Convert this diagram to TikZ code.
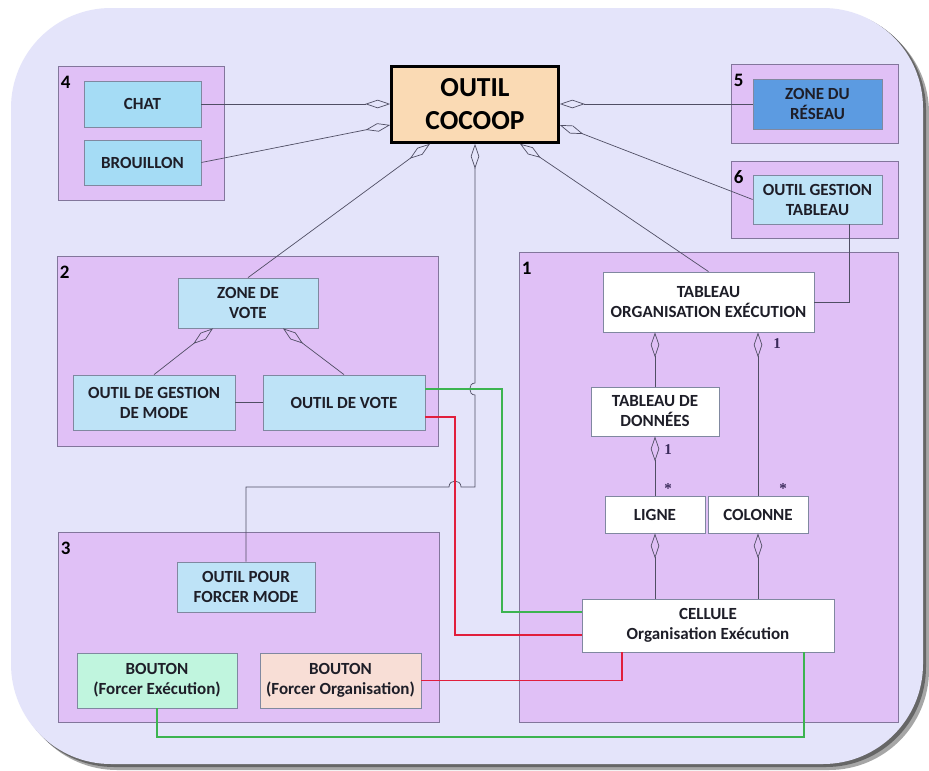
\documentclass[tikz,border=0pt]{standalone}
\usepackage{fontspec}
\setmainfont{Carlito}
\newfontfamily\serifb{Liberation Serif}
\usetikzlibrary{arrows.meta,calc}

\definecolor{bgc}{RGB}{228,228,250}
\definecolor{grp}{RGB}{224,192,246}
\definecolor{grpb}{RGB}{130,118,155}
\definecolor{boxb}{RGB}{128,136,160}
\definecolor{lblue}{RGB}{190,227,247}
\definecolor{cblue}{RGB}{165,220,245}
\definecolor{dblue}{RGB}{92,155,225}
\definecolor{peach}{RGB}{250,218,180}
\definecolor{mint}{RGB}{192,245,222}
\definecolor{pinkc}{RGB}{248,222,214}
\definecolor{lnc}{RGB}{80,78,100}
\definecolor{gline}{RGB}{60,180,80}
\definecolor{rline}{RGB}{225,30,60}
\definecolor{txt}{RGB}{30,30,40}
\definecolor{multc}{RGB}{58,42,90}

\begin{document}
\begin{tikzpicture}[x=1pt,y=-1pt,
  grpbox/.style={draw=grpb, fill=grp, line width=0.8pt, inner sep=0pt},
  glabel/.style={font=\fontsize{19}{19}\selectfont\bfseries, text=black, inner sep=0pt},
  ebox/.style={draw=boxb, line width=0.8pt, inner sep=0pt, align=center,
    font=\fontsize{17}{20}\selectfont\bfseries, text=txt},
  conn/.style={draw=lnc, line width=0.7pt},
  agg/.style={conn, {Diamond[open,length=25pt,width=8.5pt,line width=0.7pt]}-},
  gcon/.style={draw=gline, line width=1.6pt},
  rcon/.style={draw=rline, line width=1.6pt},
  mult/.style={font=\serifb\fontsize{15}{15}\selectfont\bfseries, text=multc, inner sep=0pt}
]
\useasboundingbox (0,0) rectangle (929,771);
\fill[white] (0,0) rectangle (929,771);
% background with shadow
\fill[black!35, rounded corners=100pt] (17,13) rectangle (929,770);
\fill[black!60, rounded corners=100pt] (14,10) rectangle (926,767);
\fill[bgc, rounded corners=100pt] (11,8) rectangle (923,764);

% groups
\node[grpbox, minimum width=166pt, minimum height=134pt] (g4) at (141,133) {};
\node[grpbox, minimum width=167pt, minimum height=79pt] (g5) at (814.5,103.5) {};
\node[grpbox, minimum width=167pt, minimum height=77pt] (g6) at (814.5,199.5) {};
\node[grpbox, minimum width=379pt, minimum height=470pt] (g1) at (708.5,487) {};
\node[grpbox, minimum width=381pt, minimum height=190pt] (g2) at (247.5,351) {};
\node[grpbox, minimum width=381pt, minimum height=190pt] (g3) at (248.5,627) {};

\node[glabel, anchor=base west] (l4) at ($(g4.north west)+(3,23)$) {4};
\node[glabel, anchor=base west] (l5) at ($(g5.north west)+(3,23)$) {5};
\node[glabel, anchor=base west] (l6) at ($(g6.north west)+(3,23)$) {6};
\node[glabel, anchor=base west] (l1) at ($(g1.north west)+(3,23)$) {1};
\node[glabel, anchor=base west] (l2) at ($(g2.north west)+(3,23)$) {2};
\node[glabel, anchor=base west] (l3) at ($(g3.north west)+(3,23)$) {3};

% elements
\node[ebox, fill=cblue, minimum width=117pt, minimum height=46pt] (chat) at (142.5,104) {CHAT};
\node[ebox, fill=cblue, minimum width=117pt, minimum height=45pt] (brouillon) at (142.5,162.5) {BROUILLON};
\node[ebox, fill=peach, draw=black, line width=2.6pt, text=black,
  font=\fontsize{27.5}{33}\selectfont\bfseries,
  minimum width=167pt, minimum height=76pt] (cocoop) at (475,104.5) {OUTIL\\COCOOP};
\node[ebox, fill=dblue, minimum width=129pt, minimum height=50pt] (reseau) at (817.5,104) {ZONE DU\\RÉSEAU};
\node[ebox, fill=lblue, minimum width=129pt, minimum height=49pt] (ogt) at (817.5,199.5) {OUTIL GESTION\\TABLEAU};
\node[ebox, fill=white, minimum width=211pt, minimum height=60pt] (toe) at (708.5,302) {TABLEAU\\ORGANISATION EXÉCUTION};
\node[ebox, fill=white, minimum width=128pt, minimum height=49pt] (tdd) at (655,411.5) {TABLEAU DE\\DONNÉES};
\node[ebox, fill=white, minimum width=100pt, minimum height=37pt] (ligne) at (655,514.5) {LIGNE};
\node[ebox, fill=white, minimum width=100pt, minimum height=37pt] (colonne) at (758,514.5) {COLONNE};
\node[ebox, fill=white, minimum width=252pt, minimum height=53pt] (cellule) at (708,625.5) {CELLULE\\Organisation Exécution};
\node[ebox, fill=lblue, minimum width=140pt, minimum height=50pt] (zdv) at (248,303) {ZONE DE\\VOTE};
\node[ebox, fill=lblue, minimum width=162pt, minimum height=55pt] (ogm) at (154,402.5) {OUTIL DE GESTION\\DE MODE};
\node[ebox, fill=lblue, minimum width=162pt, minimum height=55pt] (odv) at (344,402.5) {OUTIL DE VOTE};
\node[ebox, fill=lblue, minimum width=138pt, minimum height=50pt] (opfm) at (246,587) {OUTIL POUR\\FORCER MODE};
\node[ebox, fill=mint, minimum width=160pt, minimum height=55pt] (bex) at (157,680.5) {BOUTON\\(Forcer Exécution)};
\node[ebox, fill=pinkc, minimum width=161pt, minimum height=55pt] (bor) at (340.5,680.5) {BOUTON\\(Forcer Organisation)};

% connectors
\draw[agg] (cocoop.west |- chat.east) -- (chat.east);
\draw[agg] ([yshift=-20.5pt]cocoop.west) -- (brouillon.east);
\draw[agg] ([xshift=-45pt]cocoop.south) -- (zdv.north);
\draw[agg] (cocoop.south) -- (cocoop.south |- 0,383)
  .. controls ++(-7,0) and ++(-7,0) .. (cocoop.south |- 0,395)
  -- (cocoop.south |- 0,487) -- (461,487)
  .. controls ++(0,-8) and ++(0,-8) .. (449,487)
  -- (opfm.north |- 0,487) -- (opfm.north);
\draw[agg] (cocoop.east |- reseau.west) -- (reseau.west);
\draw[agg] ([yshift=-20.5pt]cocoop.east) -- (ogt.west);
\draw[agg] ([xshift=45pt]cocoop.south) -- (toe.north);
\draw[conn] (ogt.south -| 849,0) |- (toe.east);
\draw[agg] (toe.south -| tdd.north) -- (tdd.north);
\draw[agg] (toe.south -| colonne.north) -- (colonne.north);
\draw[agg] (tdd.south) -- (ligne.north);
\draw[agg] (ligne.south) -- (ligne.south |- cellule.north);
\draw[agg] (colonne.south) -- (colonne.south |- cellule.north);
\draw[agg] ([xshift=-35pt]zdv.south) -- (ogm.north);
\draw[agg] ([xshift=35pt]zdv.south) -- (odv.north);
\draw[conn] (ogm.east) -- (odv.west);
\draw[gcon] (odv.east |- 0,389) -- (502,389) |- (cellule.west |- 0,612);
\draw[rcon] (odv.east |- 0,417) -- (455,417) |- (cellule.west |- 0,635);
\draw[rcon] (bor.east) -| (cellule.south -| 622,0);
\draw[gcon] (bex.south) -- (bex.south |- 0,737) -| (cellule.south -| 804,0);

% multiplicities
\node[mult] (m1) at (777,344) {1};
\node[mult] (m2) at (668,450) {1};
\node[mult] (s1) at (668,489) {*};
\node[mult] (s2) at (783,489) {*};
\end{tikzpicture}
\end{document}
